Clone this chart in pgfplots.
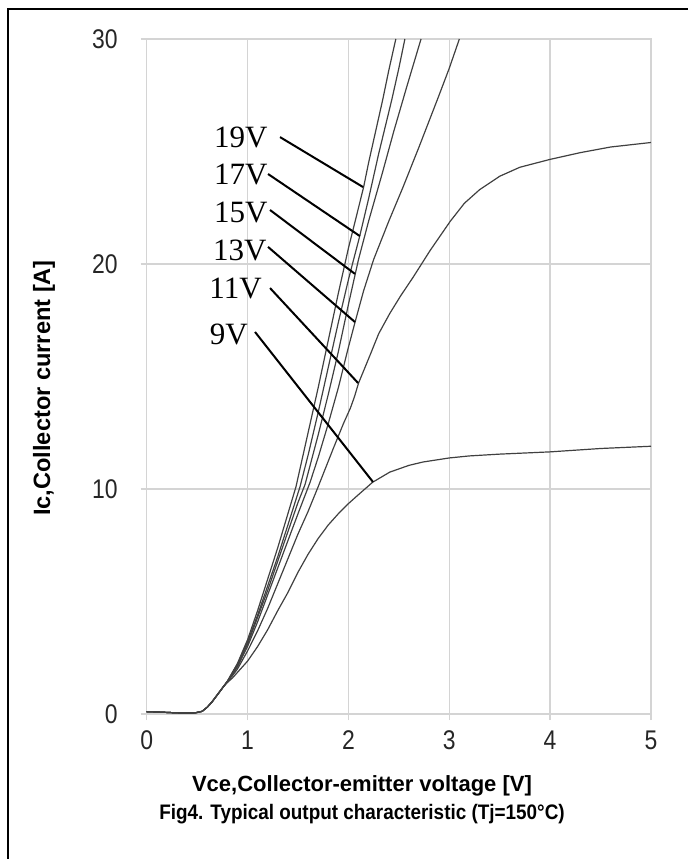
\documentclass[border=0pt]{standalone}
\usepackage{fontspec}
\usepackage{pgfplots}
\pgfplotsset{compat=1.18}
\setmainfont{Liberation Sans}
\newfontfamily\tickfont{Liberation Sans}[FakeStretch=0.85]
\newfontfamily\capfont{Liberation Sans}[FakeStretch=0.9]
\newfontfamily\labfont{Liberation Serif}
\definecolor{gridgray}{HTML}{D4D4D4}
\definecolor{curve}{HTML}{404040}

\begin{document}
\begin{tikzpicture}
\useasboundingbox (0,0) rectangle (344pt,429.5pt);
% outer frame (left and top edges)
\draw[line width=1pt] (4pt,0) -- (4pt,425pt) -- (344pt,425pt);

\begin{axis}[
  at={(73.35pt,72.5pt)}, anchor=south west,
  scale only axis, width=252.15pt, height=337.5pt,
  xmin=0, xmax=5, ymin=0, ymax=30,
  xtick={0,1,2,3,4,5}, ytick={0,10,20,30},
  grid=major,
  major grid style={draw=gridgray, line width=0.65pt},
  axis line style={draw=gridgray, line width=0.65pt},
  tick style={draw=gridgray, line width=0.65pt},
  tick align=outside, major tick length=3pt, tick pos=left,
  /pgf/number format/assume math mode=true,
  ticklabel style={font=\tickfont\fontsize{13.5}{15}\selectfont, text=black!85},
  yticklabel style={anchor=east, inner sep=0pt, xshift=-11.35pt},
  xticklabel style={anchor=north, inner sep=0pt, yshift=-5.3pt},
  clip=false,
  iv/.style={draw=curve, line width=0.6pt, mark=none, solid},
]
% 19V
\addplot[iv] coordinates {(0,0.10)(0.1,0.09)(0.2,0.07)(0.3,0.05)(0.4,0.04)(0.48,0.05)(0.55,0.12)(0.6,0.3)(0.65,0.55)(0.7,0.85)(0.75,1.15)(0.8,1.45)
 (0.85,1.85)(0.9,2.25)(1.0,3.3)(1.1,4.6)(1.2,6.0)(1.3,7.4)(1.4,8.9)(1.48,10.1)(1.6,12.5)(1.7,14.5)(1.8,16.6)(1.9,18.7)(2.0,20.7)(2.1,22.5)(2.15,23.4)(2.2,24.5)(2.3,26.5)(2.34,27.3)(2.4,28.6)(2.47,30)};
% 17V
\addplot[iv] coordinates {(0,0.10)(0.1,0.09)(0.2,0.07)(0.3,0.05)(0.4,0.04)(0.48,0.05)(0.55,0.12)(0.6,0.3)(0.65,0.55)(0.7,0.85)(0.75,1.15)(0.8,1.45)
 (0.85,1.85)(0.9,2.2)(1.0,3.2)(1.1,4.4)(1.2,5.7)(1.3,7.0)(1.4,8.4)(1.52,10.1)(1.6,11.5)(1.7,13.4)(1.8,15.4)(1.9,17.4)(2.0,19.3)(2.04,20.0)(2.11,21.2)(2.2,22.9)(2.3,24.9)(2.43,27.3)(2.5,28.7)(2.56,30)};
% 15V
\addplot[iv] coordinates {(0,0.10)(0.1,0.09)(0.2,0.07)(0.3,0.05)(0.4,0.04)(0.48,0.05)(0.55,0.12)(0.6,0.3)(0.65,0.55)(0.7,0.85)(0.75,1.15)(0.8,1.45)
 (0.85,1.8)(0.9,2.15)(1.0,3.1)(1.1,4.3)(1.2,5.5)(1.3,6.8)(1.4,8.1)(1.5,9.4)(1.57,10.2)(1.7,12.4)(1.8,14.2)(1.9,16.1)(2.0,18.2)(2.065,19.5)(2.1,20.2)(2.2,21.9)(2.34,24.1)(2.45,25.9)(2.58,27.9)(2.68,29.4)(2.72,30)};
% 13V
\addplot[iv] coordinates {(0,0.10)(0.1,0.09)(0.2,0.07)(0.3,0.05)(0.4,0.04)(0.48,0.05)(0.55,0.12)(0.6,0.3)(0.65,0.55)(0.7,0.85)(0.75,1.15)(0.8,1.45)
 (0.85,1.75)(0.9,2.1)(1.0,3.0)(1.1,4.1)(1.2,5.3)(1.3,6.5)(1.4,7.7)(1.5,8.9)(1.62,10.3)(1.7,11.4)(1.8,12.9)(1.9,14.5)(2.0,16.3)(2.065,17.4)(2.15,18.8)(2.25,20.2)(2.4,21.9)(2.54,23.4)(2.7,25.2)(2.89,27.4)(3.0,28.7)(3.1,30)};
% 11V
\addplot[iv] coordinates {(0,0.10)(0.1,0.09)(0.2,0.07)(0.3,0.05)(0.4,0.04)(0.48,0.05)(0.55,0.12)(0.6,0.3)(0.65,0.55)(0.7,0.85)(0.75,1.15)(0.8,1.45)
 (0.85,1.7)(0.9,2.0)(1.0,2.8)(1.1,3.7)(1.2,4.7)(1.3,5.8)(1.4,6.9)(1.5,8.0)(1.6,9.0)(1.7,10.1)(1.85,11.8)(1.95,12.9)(2.02,13.6)(2.06,14.1)(2.1,14.7)(2.21,15.9)(2.3,16.9)(2.41,17.8)(2.52,18.6)(2.64,19.4)(2.81,20.6)(3.01,21.9)(3.15,22.7)(3.3,23.3)(3.5,23.9)(3.7,24.3)(4.0,24.65)(4.3,24.95)(4.6,25.2)(5.0,25.4)};
% 9V
\addplot[iv] coordinates {(0,0.10)(0.1,0.09)(0.2,0.07)(0.3,0.05)(0.4,0.04)(0.48,0.05)(0.55,0.12)(0.6,0.3)(0.65,0.55)(0.7,0.85)(0.75,1.15)(0.8,1.4)
 (0.85,1.6)(0.9,1.85)(1.0,2.35)(1.1,3.0)(1.2,3.75)(1.3,4.6)(1.4,5.4)(1.5,6.3)(1.6,7.1)(1.7,7.8)(1.8,8.4)(1.9,8.9)(2.0,9.35)(2.1,9.75)(2.24,10.3)(2.41,10.75)(2.6,11.05)(2.74,11.2)(3.0,11.38)(3.2,11.47)(3.5,11.55)(4.0,11.65)(4.5,11.8)(5.0,11.9)};

% gate-voltage labels with leader lines
\begin{scope}[font=\labfont\fontsize{15.5}{16}\selectfont]
\node[anchor=east, inner sep=0pt] at (axis cs:1.203,25.64) {19V};
\node[anchor=east, inner sep=0pt] at (axis cs:1.203,23.96) {17V};
\node[anchor=east, inner sep=0pt] at (axis cs:1.203,22.27) {15V};
\node[anchor=east, inner sep=0pt] at (axis cs:1.193,20.58) {13V};
\node[anchor=east, inner sep=0pt] at (axis cs:1.144,18.89) {11V};
\node[anchor=east, inner sep=0pt] at (axis cs:1.006,16.89) {9V};
\end{scope}
\draw[black, line width=1pt] (axis cs:1.322,25.64) -- (axis cs:2.145,23.42);
\draw[black, line width=1pt] (axis cs:1.203,24.00) -- (axis cs:2.114,21.24);
\draw[black, line width=1pt] (axis cs:1.223,22.40) -- (axis cs:2.065,19.56);
\draw[black, line width=1pt] (axis cs:1.203,20.76) -- (axis cs:2.065,17.42);
\draw[black, line width=1pt] (axis cs:1.223,18.93) -- (axis cs:2.096,14.71);
\draw[black, line width=1pt] (axis cs:1.074,16.98) -- (axis cs:2.244,10.31);
\end{axis}

% axis titles and caption
\node[rotate=90, font=\bfseries\fontsize{11.8}{13}\selectfont] at (22pt,235.5pt) {Ic,Collector current [A]};
\node[font=\bfseries\fontsize{11}{13}\selectfont] at (181pt,36.5pt) {Vce,Collector-emitter voltage [V]};
\node[font=\capfont\bfseries\fontsize{10.5}{12}\selectfont] at (181pt,22.5pt) {Fig4. Typical output characteristic (Tj=150°C)};
\end{tikzpicture}
\end{document}
